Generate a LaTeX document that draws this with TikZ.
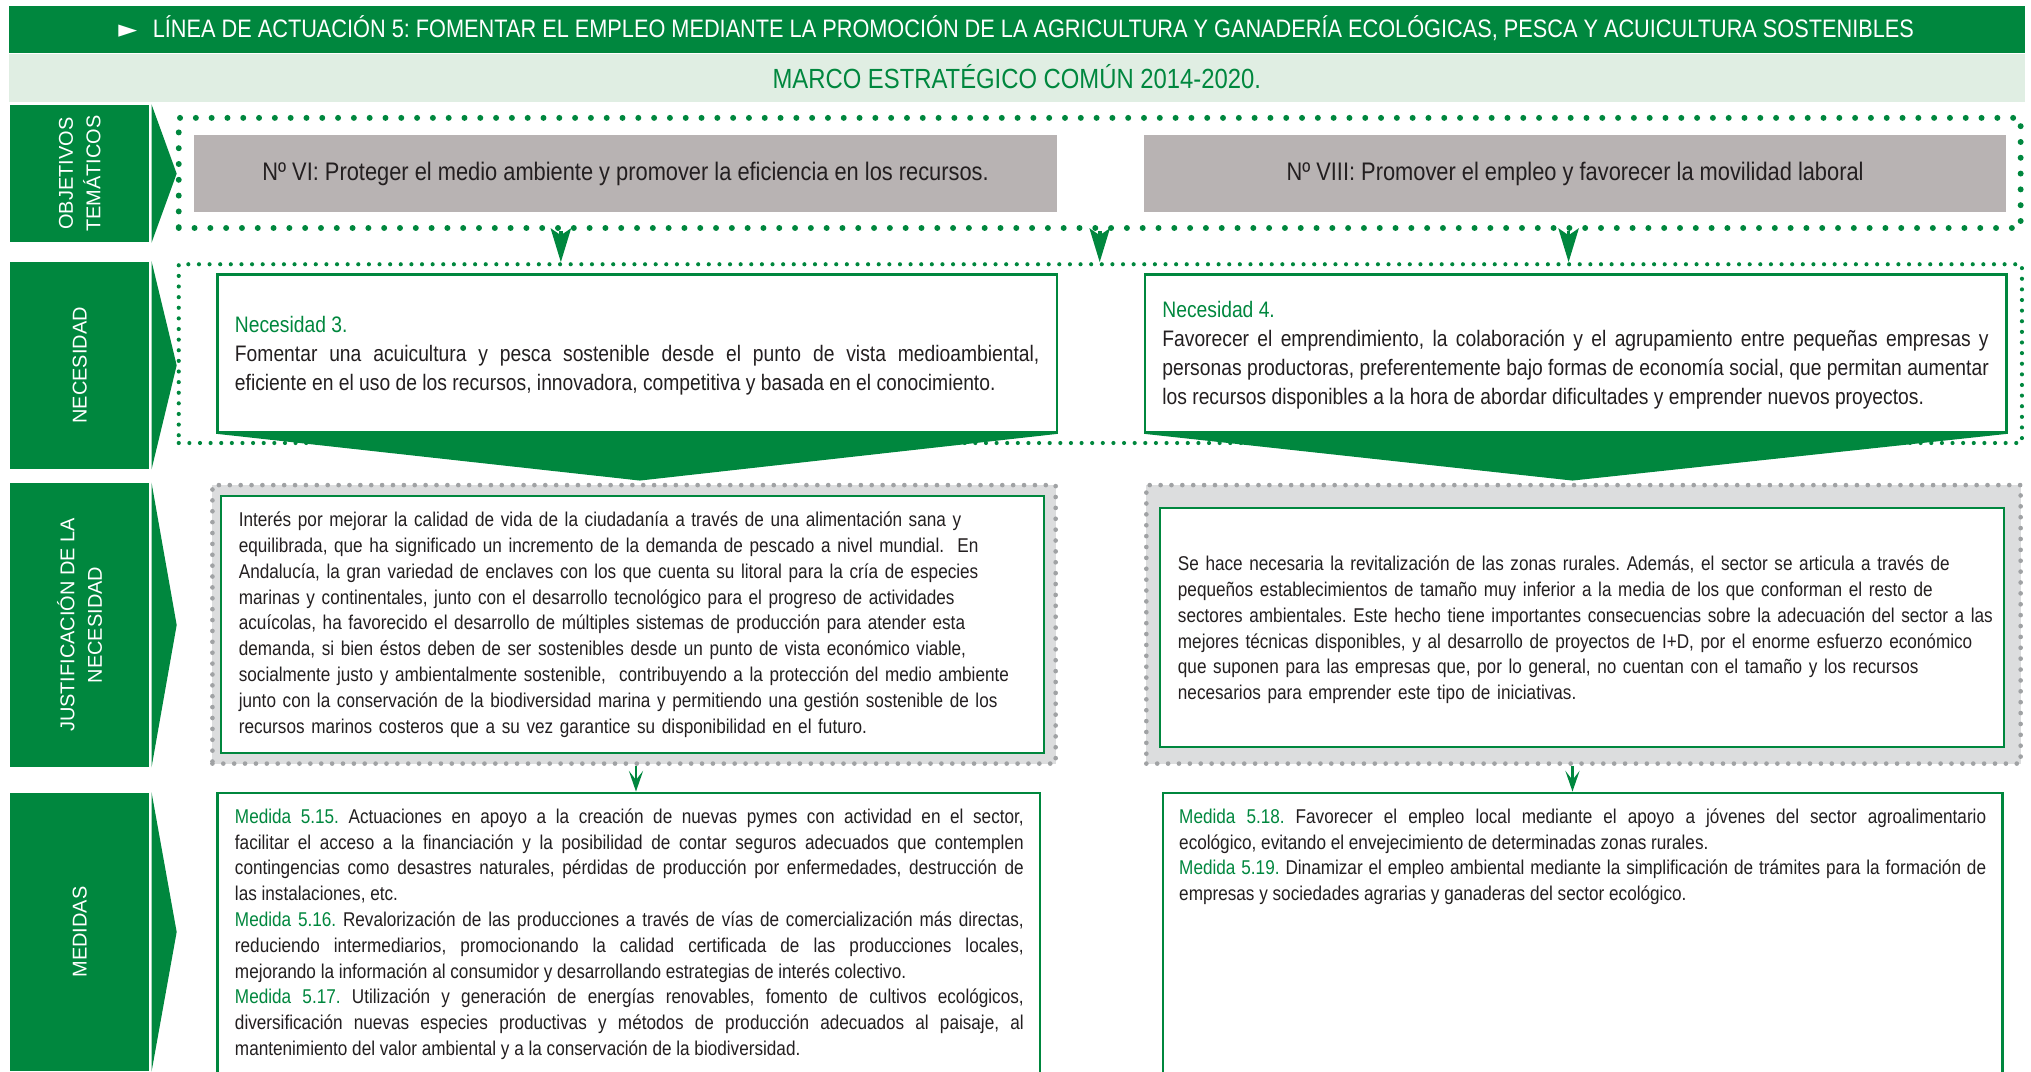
\documentclass[tikz,border=0pt]{standalone}
\usepackage{fontspec}
\setmainfont{Liberation Sans}
\newfontfamily\cnd{Liberation Sans}[FakeStretch=0.86]
\newfontfamily\symb{DejaVu Sans}
\usetikzlibrary{arrows.meta,fit}
\definecolor{mygreen}{HTML}{00873E}
\definecolor{barlight}{HTML}{E0EEE3}
\definecolor{objgrey}{HTML}{B8B3B3}
\definecolor{justgrey}{HTML}{DCDDDE}
\definecolor{dotgrey}{HTML}{A0A2A4}
\definecolor{ink}{HTML}{231F20}
\tikzset{
  sidebox/.style={fill=mygreen, draw=none, inner sep=0pt},
  sidelabel/.style={text=white, rotate=90, align=center, font=\fontsize{7.7}{10.6}\selectfont, inner sep=0pt},
  bigdots/.style={draw=mygreen, line width=2.3pt, line cap=round, dash pattern=on 0pt off 6.1pt, inner sep=0pt},
  smalldots/.style={draw=mygreen, line width=1.6pt, line cap=round, dash pattern=on 0pt off 4.1pt, inner sep=0pt},
  greydots/.style={draw=dotgrey, fill=justgrey, line width=1.8pt, line cap=round, dash pattern=on 0pt off 4.2pt, inner sep=0pt},
  objbox/.style={fill=objgrey, minimum width=333pt, minimum height=30pt, inner sep=0pt, text=ink, font=\cnd\fontsize{9.8}{11}\selectfont},
  greenbox/.style={draw=mygreen, fill=white, line width=0.9pt, inner sep=0pt},
  needtext/.style={anchor=base west, inner sep=0pt, align=justify, text=ink, font=\cnd\fontsize{8.65}{11.2}\selectfont},
  bodytext/.style={anchor=base west, inner sep=0pt, text=ink, font=\cnd\fontsize{7.7}{9.95}\selectfont},
  bigarrow/.style={draw=mygreen, line width=1.4pt, -{Stealth[length=13pt,width=7.8pt,inset=2.6pt]}},
  smallarrow/.style={draw=mygreen, line width=0.8pt, -{Stealth[length=8pt,width=5.5pt,inset=3.5pt]}},
}
\newcommand{\gm}[1]{\textcolor{mygreen}{#1}}
\frenchspacing
\begin{document}
\begin{tikzpicture}[x=0.5pt,y=-0.5pt]
\useasboundingbox (0,0) rectangle (1568,827);
\clip (0,0) rectangle (1568,827);

% header bars
\node[fill=mygreen, inner sep=0pt, fit={(7,5)(1563,41)}] (titlebar) {};
\node[anchor=base west, inner sep=0pt, text=white, font=\cnd\fontsize{9.75}{11}\selectfont] (title) at (91,29)
  {{\symb\fontsize{9.5}{10}\selectfont ►}\hspace{6pt}LÍNEA DE ACTUACIÓN 5: FOMENTAR EL EMPLEO MEDIANTE LA PROMOCIÓN DE LA AGRICULTURA Y GANADERÍA ECOLÓGICAS, PESCA Y ACUICULTURA SOSTENIBLES};
\node[fill=barlight, inner sep=0pt, fit={(7,42)(1563,79)}] (marcobar) {};
\node[anchor=base, inner sep=0pt, text=mygreen, font=\cnd\fontsize{10.7}{12}\selectfont] (marco) at (785,68.5) {MARCO ESTRATÉGICO COMÚN 2014-2020.};

% side labels
\node[sidebox, fit={(8,81)(115,187)}] (labobj) {};
\node[sidebox, fit={(8,202)(115,362)}] (labneed) {};
\node[sidebox, fit={(8,373)(115,592)}] (labjust) {};
\node[sidebox, fit={(8,612)(115,827)}] (labmed) {};
\foreach \n in {labobj,labneed,labjust,labmed}{
  \fill[mygreen] ([xshift=0.8pt]\n.north east) -- ([xshift=10.5pt]\n.east) -- ([xshift=0.8pt]\n.south east) -- cycle;
}
\node[sidelabel] (tobj) at (labobj.center) {OBJETIVOS\\TEMÁTICOS};
\node[sidelabel] (tneed) at (labneed.center) {NECESIDAD};
\node[sidelabel] (tjust) at (labjust.center) {JUSTIFICACIÓN DE LA\\NECESIDAD};
\node[sidelabel] (tmed) at (labmed.center) {MEDIDAS};

% objetivos
\node[bigdots, fit={(138,91)(1560,176)}] (objdots) {};
\node[objbox] (ob6) at (483,134) {Nº VI: Proteger el medio ambiente y promover la eficiencia en los recursos.};
\node[objbox] (ob8) at (1216,134) {Nº VIII: Promover el empleo y favorecer la movilidad laboral};

% necesidad
\node[smalldots, fit={(138,204)(1561,342)}] (needdots) {};
\node[greenbox, fit={(168,212)(816,334)}] (need3) {};
\node[greenbox, fit={(884,212)(1549,334)}] (need4) {};
\coordinate (tip3) at (494,371);
\coordinate (tip4) at (1214,371);
\fill[mygreen] (need3.south west) -- (need3.south east) -- (tip3) -- cycle;
\fill[mygreen] (need4.south west) -- (need4.south east) -- (tip4) -- cycle;

\coordinate (a1) at (433,0);
\coordinate (a2) at (849,0);
\coordinate (a3) at (1211,0);
\foreach \a in {a1,a2,a3}{
  \draw[bigarrow] (objdots.south -| \a) -- (needdots.north -| \a);
}

\node[needtext, text width=310.5pt] (t3) at (181,257)
  {\gm{Necesidad 3.}\\ Fomentar una acuicultura y pesca sostenible desde el punto de vista medioambiental,\linebreak eficiente en el uso de los recursos, innovadora, competitiva y basada en el conocimiento.};
\node[needtext, text width=319pt] (t4) at (897,245)
  {\gm{Necesidad 4.}\\ Favorecer el emprendimiento, la colaboración y el agrupamiento entre pequeñas empresas y\linebreak personas productoras, preferentemente bajo formas de economía social, que permitan aumentar\linebreak los recursos disponibles a la hora de abordar dificultades y emprender nuevos proyectos.};

% justificacion
\node[greydots, fit={(164,374.5)(815,589.5)}] (jout1) {};
\node[greenbox, fit={(170.5,383)(806,581.5)}] (jin1) {};
\node[greydots, fit={(885,374.5)(1560,589.5)}] (jout2) {};
\node[greenbox, fit={(895.5,392)(1547,576.5)}] (jin2) {};

\node[bodytext, text width=320pt, align=left] (jl) at (184,406.7)
  {Interés por mejorar la calidad de vida de la ciudadanía a través de una alimentación sana y\\
   equilibrada, que ha significado un incremento de la demanda de pescado a nivel mundial.\ \ En\\
   Andalucía, la gran variedad de enclaves con los que cuenta su litoral para la cría de especies\\
   marinas y continentales, junto con el desarrollo tecnológico para el progreso de actividades\\
   acuícolas, ha favorecido el desarrollo de múltiples sistemas de producción para atender esta\\
   demanda, si bien éstos deben de ser sostenibles desde un punto de vista económico viable,\\
   socialmente justo y ambientalmente sostenible,\ \ contribuyendo a la protección del medio ambiente\\
   junto con la conservación de la biodiversidad marina y permitiendo una gestión sostenible de los\\
   recursos marinos costeros que a su vez garantice su disponibilidad en el futuro.};
\node[bodytext, text width=325pt, align=left] (jr) at (909,440.7)
  {Se hace necesaria la revitalización de las zonas rurales. Además, el sector se articula a través de\\
   pequeños establecimientos de tamaño muy inferior a la media de los que conforman el resto de\\
   sectores ambientales. Este hecho tiene importantes consecuencias sobre la adecuación del sector a las\\
   mejores técnicas disponibles, y al desarrollo de proyectos de I+D, por el enorme esfuerzo económico\\
   que suponen para las empresas que, por lo general, no cuentan con el tamaño y los recursos\\
   necesarios para emprender este tipo de iniciativas.};

% medidas
\node[greenbox, fit={(168,612)(803,850)}] (med1) {};
\node[greenbox, fit={(898,612)(1546,850)}] (med2) {};
\coordinate (s1) at (491,0);
\coordinate (s2) at (1214,0);
\draw[smallarrow] (jout1.south -| s1) -- (med1.north -| s1);
\draw[smallarrow] (jout2.south -| s2) -- (med2.north -| s2);

\node[bodytext, text width=304.5pt, align=justify] (m1) at (181,635.7)
  {\gm{Medida 5.15.} Actuaciones en apoyo a la creación de nuevas pymes con actividad en el sector,\linebreak
   facilitar el acceso a la financiación y la posibilidad de contar seguros adecuados que contemplen\linebreak
   contingencias como desastres naturales, pérdidas de producción por enfermedades, destrucción de\linebreak
   las instalaciones, etc.\\
   \gm{Medida 5.16.} Revalorización de las producciones a través de vías de comercialización más directas,\linebreak
   reduciendo intermediarios, promocionando la calidad certificada de las producciones locales,\linebreak
   mejorando la información al consumidor y desarrollando estrategias de interés colectivo.\\
   \gm{Medida 5.17.} Utilización y generación de energías renovables, fomento de cultivos ecológicos,\linebreak
   diversificación nuevas especies productivas y métodos de producción adecuados al paisaje, al\linebreak
   mantenimiento del valor ambiental y a la conservación de la biodiversidad.};
\node[bodytext, text width=311.5pt, align=justify] (m2) at (910,635.7)
  {\gm{Medida 5.18.} Favorecer el empleo local mediante el apoyo a jóvenes del sector agroalimentario\linebreak
   ecológico, evitando el envejecimiento de determinadas zonas rurales.\\
   \gm{Medida 5.19.} Dinamizar el empleo ambiental mediante la simplificación de trámites para la formación de\linebreak
   empresas y sociedades agrarias y ganaderas del sector ecológico.};
\end{tikzpicture}
\end{document}
